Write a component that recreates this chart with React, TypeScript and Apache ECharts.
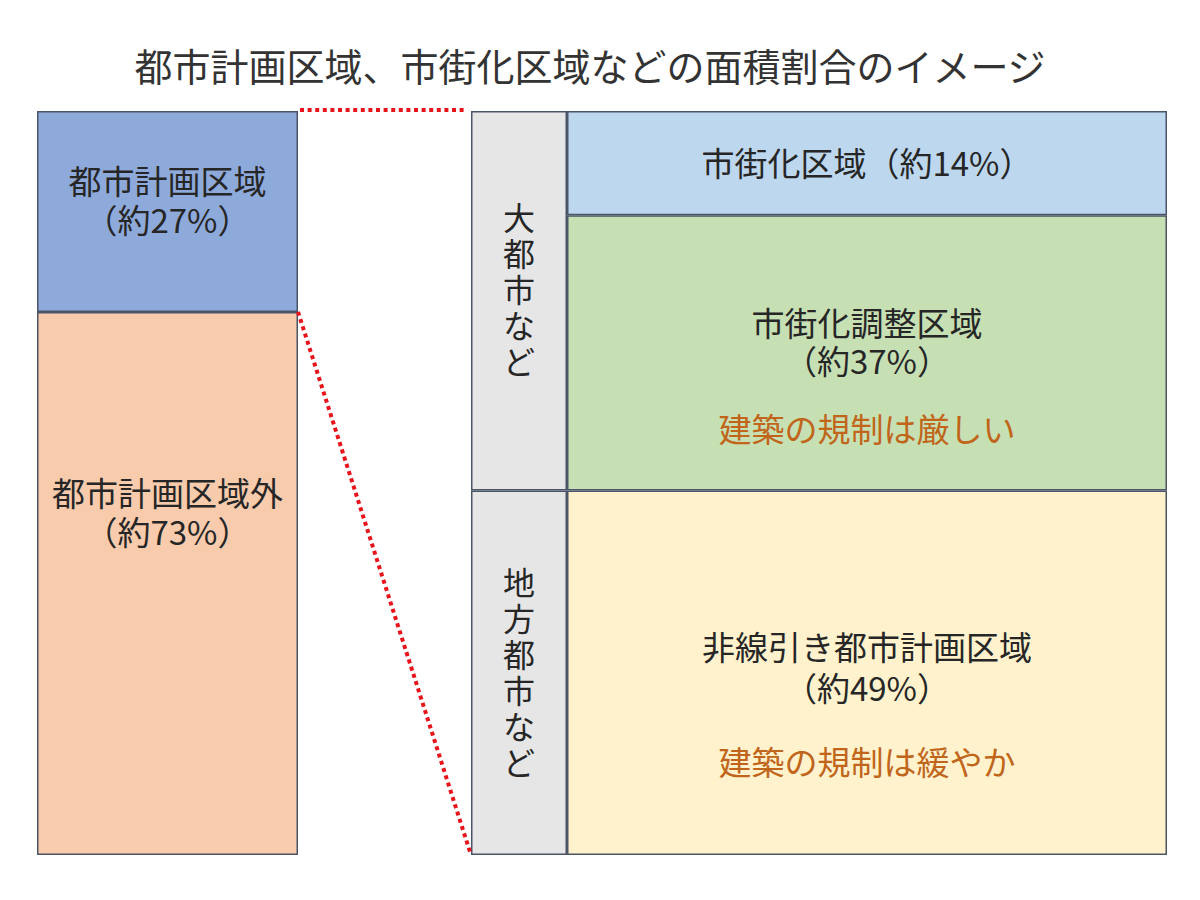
import React, { useEffect, useRef } from "react";
import * as echarts from "echarts";

const title = "都市計画区域、市街化区域などの面積割合のイメージ";

// Left bar: share of national land
const leftNames = ["都市計画区域", "都市計画区域外"];
const leftValues = [27, 73];

// Right side: breakdown of city planning area
const groupNames = ["大都市など", "地方都市など"];
const groupValues = [51, 49];

const zoneNames = ["市街化区域", "市街化調整区域", "非線引き都市計画区域"];
const zoneValues = [14, 37, 49];
const zoneNotes = ["", "建築の規制は厳しい", "建築の規制は緩やか"];

const FONT = "'Noto Sans CJK JP', 'Noto Sans', sans-serif";
const BORDER = "#4a5568";

export default function App() {
  const ref = useRef<HTMLDivElement>(null);
  useEffect(() => {
    if (!ref.current) return;
    const chart = echarts.init(ref.current, null, { renderer: "svg" });

    const L = { left: 37, width: 261, top: 111, height: 744 };
    const G = { left: 471, width: 96, top: 111, height: 744 };
    const M = { left: 567, width: 600, top: 111, height: 744 };
    const grids = [L, G, M];

    const leftColors = ["#8eaadb", "#f8cbad"];
    const groupColors = ["#e7e6e6", "#e7e6e6"];
    const zoneColors = ["#bdd7ee", "#c6e0b4", "#fff2cc"];

    const FS = 33;
    const baseText = { color: "#262626", fontSize: FS, fontFamily: FONT };

    const leftOffsets = [[0, -12], [0, -72]];
    const zoneOffsets = [[0, -1], [0, 22], [0, 30]];

    const series: any[] = [];
    leftValues.forEach((v, i) => {
      series.push({
        type: "bar",
        xAxisIndex: 0,
        yAxisIndex: 0,
        stack: "left",
        barWidth: "100%",
        data: [v],
        itemStyle: { color: leftColors[i], borderColor: BORDER, borderWidth: 1.5 },
        label: {
          show: true,
          position: "inside",
          offset: leftOffsets[i],
          formatter: `{a|${leftNames[i]}}\n{a|（約${v}%）}`,
          rich: { a: { ...baseText, lineHeight: 39 } },
        },
      });
    });
    groupValues.forEach((v, i) => {
      series.push({
        type: "bar",
        xAxisIndex: 1,
        yAxisIndex: 1,
        stack: "group",
        barWidth: "100%",
        data: [v],
        itemStyle: { color: groupColors[i], borderColor: BORDER, borderWidth: 1.5 },
        label: {
          show: true,
          position: "inside",
          offset: i === 0 ? [0, -13] : [0, -2],
          formatter: groupNames[i].split("").join("\n"),
          ...baseText,
          fontSize: 32,
          lineHeight: 36,
        },
      });
    });
    zoneValues.forEach((v, i) => {
      const lines =
        i === 0
          ? `{a|${zoneNames[i]}（約${v}%）}`
          : `{a|${zoneNames[i]}}\n{a|（約${v}%）}\n{s|}\n{o|${zoneNotes[i]}}`;
      series.push({
        type: "bar",
        xAxisIndex: 2,
        yAxisIndex: 2,
        stack: "zone",
        barWidth: "100%",
        data: [v],
        itemStyle: { color: zoneColors[i], borderColor: BORDER, borderWidth: 1.5 },
        label: {
          show: true,
          position: "inside",
          offset: zoneOffsets[i],
          formatter: lines,
          rich: {
            a: { ...baseText, lineHeight: i === 2 ? 41 : 38 },
            s: { fontSize: 10, lineHeight: i === 2 ? 34 : 30 },
            o: { ...baseText, color: "#c0651a", lineHeight: 38 },
          },
        },
      });
    });

    const option: any = {
      animation: false,
      backgroundColor: "#ffffff",
      title: {
        text: title,
        left: 585,
        textAlign: "center",
        top: 40,
        textStyle: { color: "#333333", fontSize: 38, fontWeight: "normal", fontFamily: FONT },
      },
      grid: grids.map((g) => ({ ...g, containLabel: false })),
      xAxis: grids.map((_, i) => ({
        type: "category",
        gridIndex: i,
        data: [""],
        show: false,
        boundaryGap: true,
      })),
      yAxis: grids.map((_, i) => ({
        type: "value",
        gridIndex: i,
        min: 0,
        max: 100,
        inverse: true,
        show: false,
      })),
      series,
    };
    chart.setOption(option);

    // Connector lines between the left bar's city-planning segment and the right breakdown
    const yTopL = chart.convertToPixel({ yAxisIndex: 0 }, 0) as number;
    const ySplitL = chart.convertToPixel({ yAxisIndex: 0 }, leftValues[0]) as number;
    const yTopR = chart.convertToPixel({ yAxisIndex: 1 }, 0) as number;
    const yBotR = chart.convertToPixel({ yAxisIndex: 1 }, 100) as number;
    const xL = L.left + L.width;
    const xR = G.left;
    const lineStyle = {
      stroke: "#e8141c",
      lineWidth: 4,
      lineDash: [4, 3.6],
      lineCap: "butt",
    };
    chart.setOption({
      graphic: [
        { type: "line", shape: { x1: xL + 2, y1: yTopL - 1, x2: xR - 4, y2: yTopR - 1 }, style: lineStyle, z: 10 },
        { type: "line", shape: { x1: xL, y1: ySplitL, x2: xR, y2: yBotR }, style: lineStyle, z: 10 },
      ],
    });

    return () => chart.dispose();
  }, []);
  return (
    <div
      ref={ref}
      style={{ position: "fixed", left: 0, top: 0, width: 1200, height: 900, background: "#fff" }}
    />
  );
}
